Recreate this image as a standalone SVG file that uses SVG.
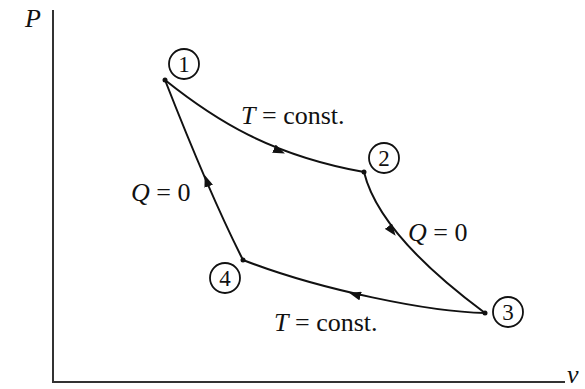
<svg xmlns="http://www.w3.org/2000/svg" width="585" height="389" viewBox="0 0 585 389">
<defs>
<marker id="arr" markerWidth="13" markerHeight="9" refX="11" refY="4.5" orient="auto" markerUnits="userSpaceOnUse">
<path d="M0,0 L12,4.5 L0,9 Z" fill="#111"/>
</marker>
<style>
.curve{fill:none;stroke:#111;stroke-width:2}
.tip{fill:none;stroke:none}
.axis{fill:none;stroke:#333;stroke-width:2}
.ring{fill:#fff;stroke:#111;stroke-width:1.8}
.num{font-family:"Liberation Serif","Times New Roman",serif;font-size:23px;fill:#111;text-anchor:middle}
.lbl{font-family:"Liberation Serif","Times New Roman",serif;font-size:26px;fill:#111}
.it{font-style:italic}
.dot{fill:#111}
</style>
</defs>
<rect width="585" height="389" fill="#fff"/>
<g id="axes">
<line class="axis" x1="53" y1="10" x2="53" y2="383" stroke-width="1.5"/>
<line class="axis" x1="52" y1="382" x2="565" y2="382" stroke-width="2.5"/>
<text class="lbl it" x="25" y="27" font-size="21">P</text>
<text class="lbl it" x="567" y="383" font-size="19">v</text>
</g>
<g id="connectors">
<path id="e12" class="curve" d="M165,80 C215,120 270,155 364,172"/>
<path class="tip" d="M270,147 L284,153" marker-end="url(#arr)"/>
<path id="e23" class="curve" d="M364,172 C372,205 400,250 485,313"/>
<path class="tip" d="M386,223 L395,235" marker-end="url(#arr)"/>
<path id="e34" class="curve" d="M485,313 C430,312 320,290 243,260"/>
<path class="tip" d="M364,297 L350,293" marker-end="url(#arr)"/>
<path id="e41" class="curve" d="M243,260 Q210,195 165,80"/>
<path class="tip" d="M210,190 L205,176" marker-end="url(#arr)"/>
<circle class="dot" cx="165" cy="80" r="2.5"/>
<circle class="dot" cx="364" cy="172" r="2.5"/>
<circle class="dot" cx="485" cy="313" r="2.5"/>
<circle class="dot" cx="243" cy="260" r="2.5"/>
</g>
<g id="node1">
<circle class="ring" cx="184" cy="64" r="15"/>
<text class="num" x="184" y="72">1</text>
</g>
<g id="node2">
<circle class="ring" cx="384" cy="158" r="15"/>
<text class="num" x="384" y="166">2</text>
</g>
<g id="node3">
<circle class="ring" cx="508" cy="312" r="15"/>
<text class="num" x="508" y="320">3</text>
</g>
<g id="node4">
<circle class="ring" cx="225" cy="278" r="15"/>
<text class="num" x="225" y="286">4</text>
</g>
<g id="labels">
<text class="lbl" x="241" y="124"><tspan class="it">T</tspan> = const.</text>
<text class="lbl" x="274" y="331"><tspan class="it">T</tspan> = const.</text>
<text class="lbl" x="131" y="201"><tspan class="it">Q</tspan> = 0</text>
<text class="lbl" x="408" y="241"><tspan class="it">Q</tspan> = 0</text>
</g>
</svg>
